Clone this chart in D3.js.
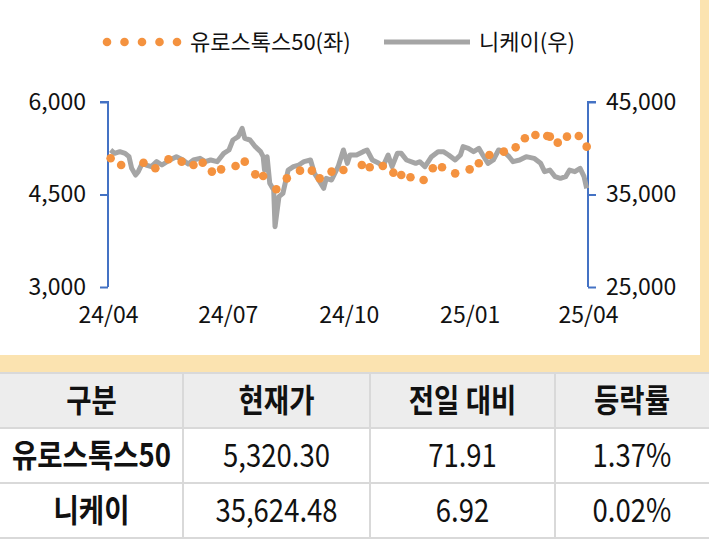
<!DOCTYPE html>
<html><head><meta charset="utf-8">
<script src="https://cdn.jsdelivr.net/npm/d3@7"></script>
<style>
body{margin:0;font-family:"Noto Sans CJK KR","Noto Sans",sans-serif;}
</style></head>
<body><svg id="c" width="709" height="540"></svg>
<script>
// start date 2024-04-01, offsets in days
const startDate = "2024-04-01";
const euroDay = [2,10,27,36,46,56,65,72,79,86,97,104,112,118,128,136,146,155,161,170,179,193,199,209,217,223,230,240,247,254,264,275,282,290,301,310,317,325,334,336,342,349,358,364];
const euroVal = [5087,4979,5016,4925,5071,5033,4979,5016,4871,4908,4963,5033,4827,4800,4584,4762,4887,4887,4762,4871,4898,4979,4941,4963,4854,4817,4779,4735,4925,4941,4843,4908,5006,5141,5195,5265,5411,5465,5449,5438,5341,5438,5449,5276];
const nkDay = [2,5,9,13,16,18,21,23,26,29,33,37,41,47,52,57,61,65,70,74,78,83,88,92,95,99,102,104,108,112,116,118,119,121,123,126,127,130,133,137,141,145,149,154,157,161,164,166,170,175,179,182,184,189,194,197,201,206,209,213,216,220,223,227,234,237,241,246,251,255,259,264,268,270,274,278,282,285,289,293,297,301,305,308,313,318,324,329,332,336,340,344,348,351,355,359,362,364];
const nkVal = [39810,39449,39630,39449,39089,37827,37107,37467,38368,38188,38008,38548,38188,38729,39089,38729,38296,38729,38909,38548,38729,38548,39449,39810,40891,41251,42151,41071,40891,40170,39630,39089,37647,39089,36206,35485,31521,34764,35125,37647,38008,38188,38548,38729,37287,36386,35665,36746,36566,38008,39810,38368,39269,39269,39630,39810,38729,38368,38008,39269,38008,39449,39449,38729,38368,38548,38008,39089,39630,39630,39269,38729,39269,40170,39990,39630,39990,39269,38368,38729,39810,39630,39089,38548,38729,39089,38909,38368,37467,37647,36926,36746,36926,37647,37467,37827,36926,35665];
const xTicks = ["2024-04-01","2024-07-01","2024-10-01","2025-01-01","2025-04-01"];
const leftTicks = [3000,4500,6000];
const rightTicks = [25000,35000,45000];
const tableHead = ["구분","현재가","전일 대비","등락률"];
const tableRows = [["유로스톡스50","5,320.30","71.91","1.37%"],["니케이","35,624.48","6.92","0.02%"]];

const svg = d3.select("#c");
const t0 = d3.isoParse(startDate);
const day = d => d3.timeDay.offset(t0, d);

// panel background
svg.append("rect").attr("width",709).attr("height",373).attr("fill","#fbe3b0");
svg.append("rect").attr("width",700).attr("height",355).attr("fill","#fff");

const x = d3.scaleTime().domain([d3.isoParse(xTicks[0]), d3.isoParse(xTicks[4])]).range([108,588]);
const yl = d3.scaleLinear().domain([3000,6000]).range([287,102]);
const yr = d3.scaleLinear().domain([25000,45000]).range([287,102]);
const blue = "#4472c4";

const gl = svg.append("g").attr("transform","translate(108,0)")
  .call(d3.axisLeft(yl).tickValues(leftTicks).tickFormat(d3.format(",")).tickSize(8).tickPadding(14));
const gr = svg.append("g").attr("transform","translate(588,0)")
  .call(d3.axisRight(yr).tickValues(rightTicks).tickFormat(d3.format(",")).tickSize(8).tickPadding(10));
[gl,gr].forEach(g=>{
  g.select(".domain").attr("stroke",blue).attr("stroke-width",2);
  g.selectAll(".tick line").attr("stroke",blue).attr("stroke-width",2);
  g.selectAll("text").attr("font-size",23).attr("fill","#111").attr("font-family","Noto Sans CJK KR");
});
gl.select(".domain").attr("d","M-8,102H0V287");
gr.select(".domain").attr("d","M8,102H0V287");

const gx = svg.append("g").attr("transform","translate(0,287)")
  .call(d3.axisBottom(x).tickValues(xTicks.map(d3.isoParse)).tickFormat(d3.timeFormat("%y/%m")).tickSize(0).tickPadding(20));
gx.select(".domain").remove();
gx.selectAll("text").attr("font-size",23).attr("fill","#111").attr("font-family","Noto Sans CJK KR");

// nikkei line
const nk = nkDay.map((d,i)=>({t:day(d),v:nkVal[i]}));
svg.append("path").datum(nk).attr("fill","none").attr("stroke","#a5a5a5").attr("stroke-width",5)
  .attr("stroke-linejoin","round")
  .attr("d",d3.line().x(d=>x(d.t)).y(d=>yr(d.v)));

// euro dots
const eu = euroDay.map((d,i)=>({t:day(d),v:euroVal[i]}));
svg.append("g").selectAll("circle").data(eu).join("circle")
  .attr("cx",d=>x(d.t)).attr("cy",d=>yl(d.v)).attr("r",4.3).attr("fill","#f4923f");

// legend
const lg = svg.append("g").attr("font-size",22).attr("fill","#111");
lg.selectAll("circle").data(d3.range(5)).join("circle")
  .attr("cx",i=>107+i*17.5).attr("cy",42).attr("r",4.3).attr("fill","#f4923f");
lg.append("text").attr("x",190).attr("y",50).text("유로스톡스50(좌)");
lg.append("line").attr("x1",384).attr("x2",470).attr("y1",42).attr("y2",42).attr("stroke","#a5a5a5").attr("stroke-width",5);
lg.append("text").attr("x",479).attr("y",50).text("니케이(우)");

// table
const cols = [0,183,370,555,709];
const rowsY = [373,428,483,538];
const tg = svg.append("g");
tg.append("rect").attr("x",0).attr("y",373).attr("width",709).attr("height",55).attr("fill","#ededed");
const all = [tableHead, ...tableRows];
all.forEach((row,r)=>{
  row.forEach((c,j)=>{
    const cx = (cols[j]+cols[j+1])/2, cy = (rowsY[r]+rowsY[r+1])/2+11;
    const bold = r===0||j===0;
    tg.append("text").attr("transform",`translate(${cx},${cy}) scale(0.86,1)`)
      .attr("text-anchor","middle").attr("font-size",32)
      .attr("font-weight",bold?"bold":"normal").attr("fill","#111")
      .attr("font-family","Noto Sans CJK KR")
      .text(c);
  });
});
rowsY.forEach(yv=>tg.append("line").attr("x1",0).attr("x2",709).attr("y1",yv).attr("y2",yv).attr("stroke","#d9d9d9").attr("stroke-width",2));
cols.slice(1,4).forEach(xv=>tg.append("line").attr("x1",xv).attr("x2",xv).attr("y1",373).attr("y2",538).attr("stroke","#d9d9d9").attr("stroke-width",2));
</script></body></html>
